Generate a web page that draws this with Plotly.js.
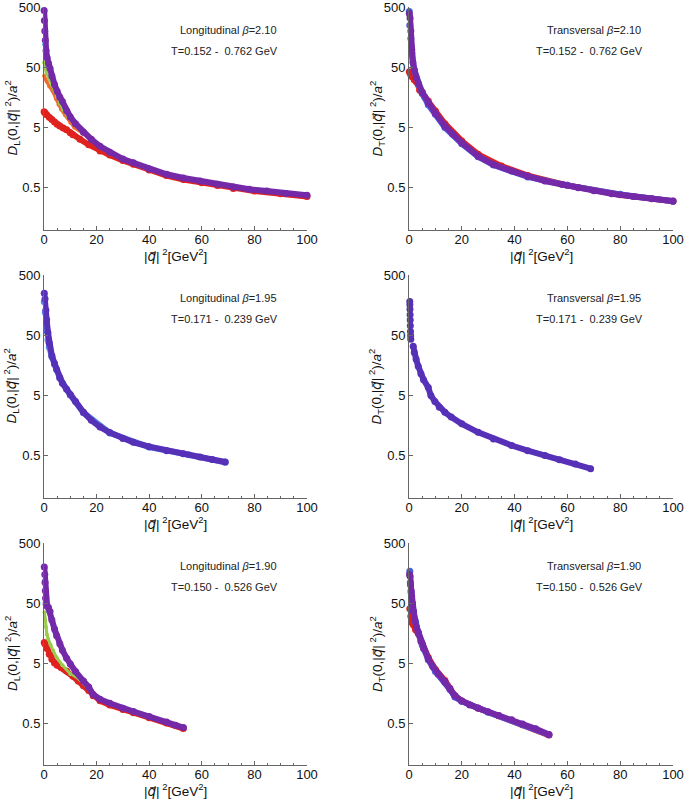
<!DOCTYPE html>
<html><head><meta charset="utf-8">
<script src="https://cdn.plot.ly/plotly-3.0.1.min.js"></script>
<style>html,body{margin:0;padding:0;background:#fff}</style>
</head><body><div id="chart" style="width:685px;height:803px"></div>
<script>
// ---------- Data ----------
// Panel 1: Longitudinal beta=2.10
const xL210_red=[0.05,0.4,1,2,3,4,5,6,7.3,8.6,10,11,13.7,17,21.3,25,30,34,40,46.6,53,60,66,72,80,90,100];
const yL210_red=[9.2,8.7,8.2,7.4,6.8,6.2,5.7,5.3,4.9,4.6,4.1,3.8,3.2,2.6,2.05,1.75,1.42,1.23,0.99,0.80,0.69,0.61,0.545,0.49,0.445,0.40,0.36];
const xL210_orange=[0.05,0.5,1,2,3.3,4.5,5.5,6.5,8,10,11.5,15,18,21.3,25,30,40,53,66,84.7,100];
const yL210_orange=[36,32,29,24,20,15,12,10,8.0,6.0,5.0,3.9,3.05,2.35,1.88,1.46,0.99,0.71,0.555,0.432,0.368];
const xL210_green=[0.05,0.4,1,2,3,4,5,6,7.2,9,12,15,18,21.3,25,30,40,53,66,84.7,100];
const yL210_green=[60,48,40,32,25,20,16,12.5,10,7.6,5.4,4.0,3.1,2.38,1.9,1.47,1.0,0.715,0.56,0.435,0.37];
const xL210_blue=[0.05,0.3,0.8,1.5,2.3,3.5,4.6,6,7.8,10,13,15,18,21.3,25,30,40,53,66,84.7,100];
const yL210_blue=[120,90,70,52,42,28,20,15,10.5,7.3,5.0,4.1,3.15,2.4,1.92,1.48,1.01,0.72,0.565,0.438,0.372];
const xL210_purple=[0.05,0.15,0.3,0.5,0.8,1.2,1.7,2.3,3,4,5,6,7,8.6,10,12,15,18,21.3,25,30,34,40,46.6,53,59.3,66,72,78,84.7,92,100];
const yL210_purple=[440,300,200,140,95,72,58,48,36,26,20,16,13.5,9.5,7.5,5.8,4.2,3.2,2.45,1.95,1.5,1.3,1.03,0.84,0.73,0.647,0.575,0.515,0.475,0.443,0.405,0.376];

// Panel 2: Transversal beta=2.10
const xT210_red=[0.1,0.6,1.2,2,2.7,4,5,6,7.3,10,13.6,20,26.2,35,45,60,80,100];
const yT210_red=[42,38,35,31,29,21,18.5,16,13.8,9.4,5.8,3.0,1.8,1.15,0.8,0.55,0.385,0.3];
const xT210_blue=[0.1,0.3,0.7,1,2,3.5,5,7.3,10,13.6,20,26.2,32,45,60,80,100];
const yT210_blue=[420,250,150,85,45,26,18.5,12,8.3,5.0,2.7,1.64,1.2,0.76,0.55,0.39,0.3];
const xT210_purple=[0.1,0.4,0.7,1,1.5,2,2.7,3.5,5,7.3,10,13.6,16.5,20,26.2,32,38.9,45,51.5,58,64.1,70,76.8,85,92,100];
const yT210_purple=[390,330,200,100,60,45,34,27.4,19.5,12.8,8.6,5.3,3.9,2.8,1.68,1.22,0.95,0.77,0.647,0.57,0.504,0.45,0.40,0.36,0.33,0.303];

// Panel 3: Longitudinal beta=1.95
const xL195_blue=[0.1,0.5,1,1.5,2,3,4,6,10,15,25,40,55,68.9];
const yL195_blue=[180,120,60,42,32,22,16.5,9.8,5.1,2.6,1.2,0.70,0.52,0.39];
const xL195_indigo=[0.1,0.4,0.7,1,1.5,2,3,4,4.8,6,7,8.6,10,12,15,18,21.3,25,30,34,40,46.6,53,59.3,64,68.9];
const yL195_indigo=[250,200,130,91,55,37,23,17,13.6,10,8,6.4,5.2,4.0,2.65,1.95,1.5,1.22,0.97,0.84,0.71,0.61,0.54,0.48,0.435,0.395];

// Panel 4: Transversal beta=1.95
const xT195_col=[0.3,0.33,0.37,0.42,0.47,0.52,0.57,0.62,0.67];
const yT195_col=[182,160,135,110,90,72,58,49,43];
const xT195_indigo=[1.6,2,2.7,3.5,4.5,5.5,7.3,8.3,9.8,11.5,13.6,16,20,26.2,32,38.9,45,51.5,57,63,68.8];
const yT195_indigo=[33,26,20,15.4,11.5,9.2,6.8,5.0,4.0,3.2,2.64,2.2,1.7,1.23,0.95,0.743,0.61,0.508,0.43,0.365,0.307];

// Panel 5: Longitudinal beta=1.90
const xL190_red=[0.1,0.4,1,2,3,4,5,6.5,8.6,11,13,15,17,18.7,21.3,25,30,34,40,46.6,53];
const yL190_red=[11,10.4,8.8,7.0,5.8,5.0,4.6,4.2,3.7,3.0,2.5,2.1,1.75,1.42,1.18,1.0,0.84,0.74,0.61,0.5,0.405];
const xL190_green=[0.2,0.4,0.7,1.1,1.6,2.5,3.5,4.8,7,10,12,15,18.7,21.3,25,30,40,53];
const yL190_green=[35,27,20,15,12.6,10,8,6.2,4.6,3.3,3.0,2.3,1.45,1.22,1.04,0.86,0.63,0.41];
const xL190_blue=[0.1,0.3,0.6,1,1.5,2.5,4,6,8.6,12,15,18.7,21.3,25,30,40,53];
const yL190_blue=[120,90,65,50,38,26,16,10,5.8,3.5,2.45,1.48,1.23,1.05,0.87,0.63,0.415];
const xL190_purple=[0.1,0.3,0.4,0.5,0.6,0.8,1.2,1.7,2.3,3,4,4.8,6,7,8.6,10,12,15,17,18.7,21.3,25,30,34,40,46.6,50,53];
const yL190_purple=[200,150,110,80,60,48,44,42,36,26,18.5,14.3,10.5,8.2,6.0,4.8,3.6,2.5,2.0,1.5,1.25,1.07,0.88,0.78,0.64,0.52,0.46,0.42];

// Panel 6: Transversal beta=1.90
const xT190_red=[0.3,0.7,1,1.6,2.5,3.5,5,7.3,10,13.6,17.4,20,26.2,34,43,53];
const yT190_red=[40,30,24,22,18,15.5,10.5,6.2,3.9,2.55,1.42,1.17,0.88,0.66,0.47,0.315];
const xT190_blue=[0.3,0.5,0.8,1.2,1.6,2.5,3.5,5,7.3,10,13.6,15.5,17.4,20,30,43,53];
const yT190_blue=[170,110,75,50,37,24,16,10,5.7,3.6,2.4,1.82,1.36,1.15,0.76,0.475,0.32];
const xT190_purple=[0.2,0.4,0.6,0.8,1,1.3,1.6,2.2,2.8,3.5,4.5,5.5,7.3,9,11,13.6,15.5,17.4,20,23,26.2,30,34,38.9,43,48,53];
const yT190_purple=[150,140,100,80,65,48,37,26,20,16.3,11.5,8.7,5.9,4.4,3.3,2.47,1.9,1.42,1.17,1.0,0.887,0.77,0.67,0.569,0.48,0.40,0.322];

// Tick labels and texts
const xTickVals=[0,20,40,60,80,100];
const yTickVals=[0.5,5,50,500];
const yTickText=['0.5','5','50','500'];
const panelTitles=['Longitudinal <i>β</i>=2.10','Transversal <i>β</i>=2.10','Longitudinal <i>β</i>=1.95','Transversal <i>β</i>=1.95','Longitudinal <i>β</i>=1.90','Transversal <i>β</i>=1.90'];
const panelRanges=['T=0.152 -\u00a0 0.762 GeV','T=0.152 -\u00a0 0.762 GeV','T=0.171 -\u00a0 0.239 GeV','T=0.171 -\u00a0 0.239 GeV','T=0.150 -\u00a0 0.526 GeV','T=0.150 -\u00a0 0.526 GeV'];
const QV='<span style="font-family:DejaVu Sans"><i>q\u20d7</i></span>';
const yTitles=['<i>D</i><sub>L</sub>(0,|'+QV+'|<sup> 2</sup>)/<i>a</i><sup>2</sup>','<i>D</i><sub>T</sub>(0,|'+QV+'|<sup> 2</sup>)/<i>a</i><sup>2</sup>'];
const xTitle='|'+QV+'|<sup> 2</sup>[GeV<sup>2</sup>]';

// ---------- Styles ----------
const C={red:'#e0221e',orange:'#f06a2c',green:'#9acb4e',blue:'#3f9ee0',blue2:'#4a5ee0',purple:'#7429a8',indigo:'#5631b8',lblue:'#5a86e8'};
const W=685,H=803;
const colsPx=[[44,307],[409,673]];
const rowsPx=[[7,230],[275,498],[543,765]];
const FONT='Liberation Sans, Arial, Helvetica, sans-serif';

// [x, y, colour, line width, marker size, mode]
const panels=[
  [[xL210_red,yL210_red,C.red,6,7],[xL210_orange,yL210_orange,C.orange,3,4],[xL210_green,yL210_green,C.green,3,4],[xL210_blue,yL210_blue,C.blue,3,4],[xL210_purple,yL210_purple,C.purple,6,7]],
  [[xT210_red,yT210_red,C.red,6,7],[xT210_blue,yT210_blue,C.blue2,6,7],[xT210_purple,yT210_purple,C.purple,6,7]],
  [[xL195_blue,yL195_blue,C.lblue,6,7],[xL195_indigo,yL195_indigo,C.indigo,6,7]],
  [[xT195_col,yT195_col,C.indigo,6,7,'markers'],[xT195_indigo,yT195_indigo,C.indigo,6,7]],
  [[xL190_red,yL190_red,C.red,6,7],[xL190_green,yL190_green,C.green,3,4],[xL190_blue,yL190_blue,C.blue2,3,4],[xL190_purple,yL190_purple,C.purple,6,7]],
  [[xT190_red,yT190_red,C.red,6,7],[xT190_blue,yT190_blue,C.blue2,6,7],[xT190_purple,yT190_purple,C.purple,6,7]]
];

const data=[];
const layout={width:W,height:H,margin:{l:0,r:0,t:0,b:0},paper_bgcolor:'#fff',plot_bgcolor:'#fff',showlegend:false,font:{family:FONT,color:'#111'},annotations:[]};

panels.forEach((series,i)=>{
  const r=Math.floor(i/2), c=i%2;
  const xa=i===0?'x':'x'+(i+1), ya=i===0?'y':'y'+(i+1);
  const xk=i===0?'xaxis':'xaxis'+(i+1), yk=i===0?'yaxis':'yaxis'+(i+1);
  series.forEach(s=>{
    const mode=s[5]||'lines+markers';
    data.push({type:'scatter',mode:mode,x:s[0],y:s[1],xaxis:xa,yaxis:ya,
      line:{color:s[2],width:s[3]},marker:{color:s[2],size:s[4]},hoverinfo:'skip',cliponaxis:false});
  });
  layout[xk]={domain:[colsPx[c][0]/W,colsPx[c][1]/W],anchor:ya,range:[0,100],
    tickmode:'array',tickvals:xTickVals,ticks:'inside',ticklen:4,tickcolor:'#666',
    minor:{dtick:5,tick0:0,ticks:'inside',ticklen:2,tickcolor:'#666'},
    showline:true,linecolor:'#666',linewidth:1,showgrid:false,zeroline:false,
    ticklabeloverflow:'allow',ticklabelstandoff:-3,
    tickfont:{family:FONT,size:13,color:'#111'}};
  layout[yk]={domain:[1-rowsPx[r][1]/H,1-rowsPx[r][0]/H],anchor:xa,type:'log',
    range:[-1,Math.log10(500)+0.0005],tickmode:'array',tickvals:yTickVals,ticktext:yTickText,
    ticks:'inside',ticklen:4,tickcolor:'#666',showline:true,linecolor:'#666',linewidth:1,
    ticklabeloverflow:'allow',
    showgrid:false,zeroline:false,tickfont:{family:FONT,size:13,color:'#111'}};
  const axDom=xa+' domain', ayDom=ya+' domain';
  layout.annotations.push({xref:axDom,yref:ayDom,x:0.70,y:0.897,xanchor:'center',yanchor:'middle',showarrow:false,text:panelTitles[i],font:{family:FONT,size:11,color:'#222'}});
  layout.annotations.push({xref:axDom,yref:ayDom,x:0.685,y:0.803,xanchor:'center',yanchor:'middle',showarrow:false,text:panelRanges[i],font:{family:FONT,size:11,color:'#222'}});
  // axis titles
  const cx=(colsPx[c][0]+colsPx[c][1])/2;
  layout.annotations.push({xref:'paper',yref:'paper',x:cx/W,y:1-(rowsPx[r][1]+25)/H,xanchor:'center',yanchor:'middle',showarrow:false,text:xTitle,font:{family:FONT,size:13.5,color:'#111'}});
  const cy=(rowsPx[r][0]+rowsPx[r][1])/2;
  layout.annotations.push({xref:'paper',yref:'paper',x:(colsPx[c][0]-32)/W,y:1-cy/H,xanchor:'center',yanchor:'middle',textangle:-90,showarrow:false,text:yTitles[c],font:{family:FONT,size:13.5,color:'#111'}});
});

Plotly.newPlot('chart',data,layout,{staticPlot:true,displayModeBar:false});
</script></body></html>
